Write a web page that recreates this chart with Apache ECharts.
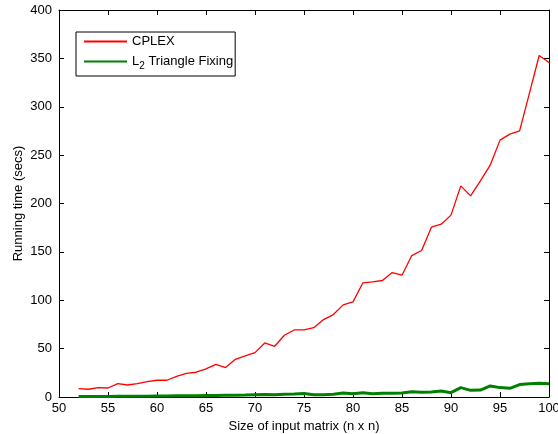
<!DOCTYPE html>
<html>
<head>
<meta charset="utf-8">
<script src="https://cdn.jsdelivr.net/npm/echarts@6/dist/echarts.min.js"></script>
<style>
html,body{margin:0;padding:0;background:#fff;}
#chart{width:558px;height:434px;}
</style>
</head>
<body>
<div id="chart"></div>
<script>
var sizes = [52,53,54,55,56,57,58,59,60,61,62,63,64,65,66,67,68,69,70,71,72,73,74,75,76,77,78,79,80,81,82,83,84,85,86,87,88,89,90,91,92,93,94,95,96,97,98,99,100];
var cplex = [8.7,8.0,9.7,9.3,13.8,12.4,13.8,15.9,17.3,17.3,21.4,24.5,25.6,29,33.8,30.4,39,42.4,45.9,55.9,52.4,63.8,69.3,69.3,71.7,80,85.2,95.2,98.3,117.9,119,120.4,128.6,125.9,146.2,151.4,175.5,178.6,188,218.2,207.9,223.4,239.6,265.5,271.7,275.1,313.8,353,345.8];
var l2fix = [0.4,0.5,0.5,0.6,0.7,0.8,0.8,0.9,1.0,1.1,1.2,1.3,1.4,1.5,1.5,1.8,1.9,2.0,2.3,2.5,2.2,2.8,3.0,3.6,2.4,2.4,2.8,4.1,3.4,4.5,3.4,3.8,3.8,4.1,5.5,4.8,5.2,6.2,4.5,9.7,6.9,7.2,11.4,9.7,9.0,12.8,13.8,14.1,13.8];
var xTicks = [50,55,60,65,70,75,80,85,90,95,100];
var yTicks = [0,50,100,150,200,250,300,350,400];
var seriesNames = ['CPLEX', 'L2 Triangle Fixing'];

function pairs(xs, ys){ return xs.map(function(x,i){ return [x, ys[i]]; }); }

var chart = echarts.init(document.getElementById('chart'));
var font = 'Liberation Sans, Arial, Helvetica, sans-serif';
var fs = 13;
var axisCommon = {
  axisLine:{show:true, onZero:false, lineStyle:{color:'#000', width:1}},
  axisTick:{show:true, inside:true, length:5, lineStyle:{color:'#000', width:1}},
  splitLine:{show:false}
};
chart.setOption({
  animation:false,
  backgroundColor:'#fff',
  grid:{left:59, right:9, top:10, bottom:37, containLabel:false, outerBoundsMode:'none'},
  legend:{
    orient:'vertical', left:76, top:32,
    data:seriesNames,
    itemWidth:43, itemHeight:14, itemGap:7,
    borderColor:'#000', borderWidth:1, padding:[3,2,5,7],
    backgroundColor:'#fff',
    itemStyle:{opacity:0},
    formatter:function(n){ return n === 'CPLEX' ? '{a|CPLEX}' : '{a|L}{s|2}{a| Triangle Fixing}'; },
    textStyle:{fontFamily:font, fontSize:fs, color:'#000',
      rich:{a:{fontFamily:font, fontSize:fs, color:'#000'}, s:{fontFamily:font, fontSize:10, color:'#000', padding:[9,0,0,0]}}}
  },
  xAxis:[
    Object.assign({type:'value', min:50, max:100, interval:5, position:'bottom',
      name:'Size of input matrix (n x n)', nameLocation:'middle', nameGap:22,
      nameTextStyle:{fontFamily:font, fontSize:fs, color:'#000'},
      axisLabel:{fontFamily:font, fontSize:fs, color:'#000', margin:5,
        formatter:function(v){ return xTicks.indexOf(v) >= 0 ? String(v) : ''; }}}, axisCommon),
    Object.assign({type:'value', min:50, max:100, interval:5, position:'top', axisLabel:{show:false}}, axisCommon)
  ],
  yAxis:[
    Object.assign({type:'value', min:0, max:400, interval:50, position:'left',
      name:'Running time (secs)', nameLocation:'middle', nameGap:34, nameMoveOverlap:false,
      nameTextStyle:{fontFamily:font, fontSize:fs, color:'#000'},
      axisLabel:{fontFamily:font, fontSize:fs, color:'#000', margin:7,
        formatter:function(v){ return yTicks.indexOf(v) >= 0 ? String(v) : ''; }}}, axisCommon),
    Object.assign({type:'value', min:0, max:400, interval:50, position:'right', axisLabel:{show:false}}, axisCommon)
  ],
  series:[
    {name:seriesNames[0], type:'line', data:pairs(sizes, cplex), showSymbol:false, symbol:'none',
     lineStyle:{color:'#ff0000', width:1.3}, itemStyle:{color:'#ff0000'}},
    {name:seriesNames[1], type:'line', data:pairs(sizes, l2fix), showSymbol:false, symbol:'none',
     lineStyle:{color:'#008000', width:3}, itemStyle:{color:'#008000'}}
  ]
});
</script>
</body>
</html>
